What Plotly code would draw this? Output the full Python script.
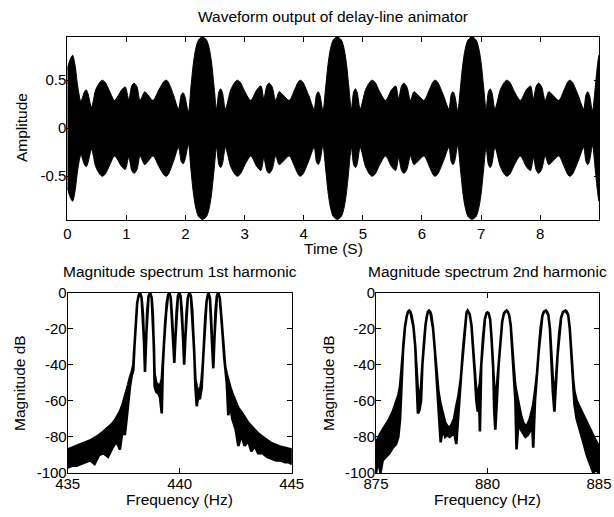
import plotly.graph_objects as go

# ---------------- data ----------------
# Waveform envelope (upper edge of the dense 440 Hz waveform)
env_t = [0.00, 0.05, 0.09, 0.13, 0.18, 0.23, 0.29, 0.32, 0.35, 0.41, 0.48, 0.55, 0.59, 0.64,
         0.72, 0.80, 0.92, 0.98, 1.04, 1.09, 1.13, 1.18, 1.23, 1.31, 1.36, 1.45, 1.55, 1.64,
         1.68, 1.71, 1.80, 1.88, 1.93, 1.96, 1.99, 2.05, 2.09, 2.13, 2.17, 2.22, 2.285,
         2.355, 2.405, 2.445, 2.485, 2.525, 2.565, 2.595, 2.625, 2.675, 2.765, 2.835, 2.875,
         2.925, 3.005, 3.105, 3.205, 3.275, 3.325, 3.375, 3.415, 3.465, 3.525, 3.585, 3.645,
         3.755, 3.845, 3.915, 3.945, 3.985, 4.085, 4.175, 4.215, 4.245, 4.275, 4.325, 4.37,
         4.41, 4.45, 4.50, 4.565,
         4.635, 4.685, 4.725, 4.765, 4.805, 4.845, 4.875, 4.905, 4.955, 5.045, 5.115, 5.155,
         5.205, 5.285, 5.385, 5.485, 5.555, 5.605, 5.655, 5.695, 5.745, 5.805, 5.865, 5.925,
         6.035, 6.125, 6.195, 6.225, 6.265, 6.365, 6.455, 6.495, 6.525, 6.555, 6.605, 6.65,
         6.69, 6.73, 6.78, 6.845,
         6.915, 6.965, 7.005, 7.045, 7.085, 7.125, 7.155, 7.185, 7.235, 7.325, 7.395, 7.435,
         7.485, 7.565, 7.665, 7.765, 7.835, 7.885, 7.935, 7.975, 8.025, 8.085, 8.145, 8.205,
         8.315, 8.405, 8.475, 8.505, 8.545, 8.645, 8.735, 8.775, 8.805, 8.835, 8.885, 8.93,
         8.97, 8.995]
env_amp = [0.62, 0.72, 0.76, 0.66, 0.42, 0.28, 0.38, 0.40, 0.36, 0.22, 0.40, 0.48, 0.50, 0.48,
           0.38, 0.29, 0.40, 0.43, 0.30, 0.44, 0.47, 0.43, 0.29, 0.38, 0.35, 0.29, 0.40, 0.49,
           0.50, 0.48, 0.34, 0.20, 0.35, 0.37, 0.33, 0.17, 0.42, 0.66, 0.82, 0.92, 0.95,
           0.92, 0.82, 0.66, 0.42, 0.20, 0.38, 0.41, 0.37, 0.20, 0.40, 0.48, 0.50,
           0.48, 0.38, 0.29, 0.40, 0.44, 0.31, 0.44, 0.47, 0.43, 0.29, 0.38, 0.35,
           0.29, 0.40, 0.49, 0.50, 0.48, 0.34, 0.20, 0.35, 0.38, 0.34, 0.18, 0.42,
           0.66, 0.82, 0.92, 0.95,
           0.92, 0.82, 0.66, 0.42, 0.20, 0.38, 0.41, 0.37, 0.20, 0.40, 0.48, 0.50,
           0.48, 0.38, 0.29, 0.40, 0.44, 0.31, 0.44, 0.47, 0.43, 0.29, 0.38, 0.35,
           0.29, 0.40, 0.49, 0.50, 0.48, 0.34, 0.20, 0.35, 0.38, 0.34, 0.18, 0.42,
           0.66, 0.82, 0.92, 0.95,
           0.92, 0.82, 0.66, 0.42, 0.20, 0.38, 0.41, 0.37, 0.20, 0.40, 0.48, 0.50,
           0.48, 0.38, 0.29, 0.40, 0.44, 0.31, 0.44, 0.47, 0.43, 0.29, 0.38, 0.35,
           0.29, 0.40, 0.49, 0.50, 0.48, 0.34, 0.20, 0.35, 0.38, 0.34, 0.18, 0.42,
           0.66, 0.76]

# 1st harmonic spectrum: frequency, upper edge, lower edge (None = same as upper)
f1 = [435.0, 435.2, 435.4, 435.6, 435.8, 436.0, 436.2, 436.4, 436.6, 436.8, 437.0, 437.1,
      437.2, 437.33, 437.45, 437.55, 437.63, 437.7, 437.78, 437.86, 437.93, 437.98, 438.03,
      438.1, 438.17, 438.23, 438.3, 438.36, 438.41, 438.45, 438.5, 438.55, 438.61, 438.68,
      438.75, 438.8, 438.85, 438.88, 438.95, 439.05, 439.12, 439.2, 439.25, 439.3, 439.36,
      439.42, 439.48, 439.54, 439.6, 439.66, 439.71, 439.76, 439.81, 439.86, 439.92, 439.98,
      440.04, 440.1, 440.15, 440.2, 440.25, 440.3, 440.36, 440.43, 440.5, 440.56, 440.6,
      440.65, 440.7, 440.76, 440.82, 440.9, 440.98, 441.03, 441.08, 441.14, 441.2, 441.28,
      441.35, 441.4, 441.45, 441.5, 441.55, 441.6, 441.66, 441.72, 441.79, 441.85, 441.92,
      441.98, 442.03, 442.1, 442.17, 442.25, 442.35, 442.5, 442.62, 442.75, 442.9, 443.05,
      443.2, 443.35, 443.5, 443.7, 443.9, 444.1, 444.3, 444.5, 444.7, 444.85, 445.0]
u1 = [-87, -86, -85, -84, -83, -82, -80.5, -79, -77, -75, -72.5, -71,
      -69, -66, -62, -58, -55, -51, -47, -44, -40, -30, -17,
      -6, -1.5, 0, -3, -12, -28, -44, -25, -10, -2, 0,
      -3, -12, -30, -45, -50, -51, -52, -48, -40, -28, -15,
      -6, -1.5, 0, -3, -14, -28, -39, -25, -11, -2, 0,
      -2, -11, -25, -40, -26, -12, -3, 0, -2, -10, -22,
      -33, -48, -52, -54, -55, -48, -40, -28, -14, -5, 0,
      -3, -14, -30, -42, -25, -10, -2, 0, -3, -12, -24,
      -35, -41, -45, -49, -52, -56, -61, -64, -66, -69, -72,
      -74, -76, -78, -80, -82, -83.5, -84.5, -85.5, -86, -86.5, -87]
l1 = [-97, -96, -96, -95, -94, -93, -95, -90, -89, -91, -86, -84,
      -83, -87, -76, -79, -70, -60, -52, -46, -43, None, None,
      None, None, None, None, None, None, None, None, None, None, None,
      None, None, None, -52, -55, -56, -58, -67, None, None, None,
      None, None, None, None, None, None, None, None, None, None, None,
      None, None, None, None, None, None, None, None, None, None, None,
      None, -52, -63, -58, -59, -53, None, None, None, None, None,
      None, None, None, None, None, None, None, None, None, None, None,
      None, -43, -50, -68, -62, -70, -76, -85, -79, -85, -82,
      -88, -85, -89, -89, -91, -92, -93, -93, -94, -94, -95]

# 2nd harmonic spectrum
f2 = [875.0, 875.1, 875.2, 875.3, 875.45, 875.6, 875.75, 875.9, 876.0, 876.08, 876.15,
      876.22, 876.3, 876.38, 876.44, 876.49, 876.54, 876.6, 876.68, 876.76, 876.82, 876.88,
      876.95, 877.02, 877.08, 877.15, 877.22, 877.29, 877.33, 877.38, 877.43, 877.48, 877.56,
      877.64, 877.72, 877.8, 877.9, 878.0, 878.1, 878.2, 878.3, 878.4, 878.5, 878.6, 878.7,
      878.8, 878.88, 878.95, 879.02, 879.06, 879.11, 879.16, 879.2, 879.28, 879.36, 879.43,
      879.5, 879.56, 879.62, 879.66, 879.72, 879.8, 879.88, 879.95, 880.0, 880.05, 880.12,
      880.18, 880.25, 880.3, 880.35, 880.42, 880.5, 880.58, 880.66, 880.74, 880.81, 880.86,
      880.91, 880.97, 881.04, 881.1, 881.18, 881.25, 881.3, 881.4, 881.5, 881.6, 881.7,
      881.8, 881.9, 882.0, 882.05, 882.13, 882.22, 882.3, 882.38, 882.46, 882.52, 882.57,
      882.62, 882.67, 882.73, 882.8, 882.86, 882.93, 883.0, 883.06, 883.14, 883.22, 883.3,
      883.38, 883.45, 883.5, 883.55, 883.62, 883.69, 883.76, 883.84, 883.9, 884.0, 884.15,
      884.3, 884.45, 884.6, 884.75, 884.85, 885.0]
u2 = [-83, -80, -78, -76, -73, -70, -66, -61, -57, -52, -42,
      -30, -19, -13, -10.6, -10, -10.6, -13, -19, -30, -42, -55,
      -58, -52, -40, -28, -18, -12.5, -10.6, -10, -10.6, -12.5, -20,
      -32, -45, -55, -62, -68, -72, -74, -75, -73, -70, -63, -57,
      -48, -35, -25, -15, -11, -10, -10.8, -12, -18, -30, -45,
      -55, -57, -52, -50, -40, -25, -15, -11.5, -11, -11.5, -15,
      -25, -40, -52, -55, -52, -40, -26, -16, -11.5, -10.4, -10,
      -10.6, -12.5, -18, -30, -42, -52, -55, -63, -68, -72, -74,
      -73, -70, -65, -62, -55, -45, -32, -20, -13, -10.8, -10.2,
      -10, -10.6, -12.5, -20, -32, -48, -55, -50, -35, -22, -14,
      -11, -10.2, -10, -10.6, -12.5, -20, -35, -48, -55, -60, -64,
      -68, -72, -76, -80, -82, -85]
l2 = [-100, -92, -100, -93, -91, -89, -86, -84, -80, -70, -55,
      None, None, None, None, None, None, None, None, None, None, -67,
      -65, -60, None, None, None, None, None, None, None, None, None,
      None, None, -62, -83, -75, -80, -79, -80, -79, -77, -84, -66,
      -50, None, None, None, None, None, None, None, None, None, None,
      -60, -66, -58, -77, None, None, None, None, None, None, None,
      None, None, -65, -76, -60, None, None, None, None, None, None,
      None, None, None, None, None, -60, -87, -70, -76, -78, -80,
      -79, -77, -72, -86, -60, None, None, None, None, None, None,
      None, None, None, None, None, -55, -66, -55, None, None, None,
      None, None, None, None, None, None, None, None, -62, -70, -77,
      -83, -90, -95, -100, -98, -100]

time_ticks = [0, 1, 2, 3, 4, 5, 6, 7, 8]
amp_ticks = [-0.5, 0, 0.5]
amp_tick_text = ["-0.5", "0", "0.5"]
db_ticks = [-100, -80, -60, -40, -20, 0]
db_tick_text = ["-100", "-80", "-60", "-40", "-20", "0"]
f1_ticks = [435, 440, 445]
f2_ticks = [875, 880, 885]

# ---------------- figure ----------------
W, H = 614, 517
FONT = "Liberation Sans, Arial, Helvetica, sans-serif"
FS = 15.5
TFS = 15


def px(x):
    return x / W


def py(y):
    return 1 - y / H


def band(f, up, lo):
    lo_full = [u if v is None else v for u, v in zip(up, lo)]
    return list(f) + list(f[::-1]), list(up) + lo_full[::-1]


fig = go.Figure()

wx = list(env_t) + list(env_t[::-1])
wy = list(env_amp) + [-a for a in env_amp[::-1]]
fig.add_trace(go.Scatter(x=wx, y=wy, mode="lines", fill="toself", fillcolor="black",
                         line=dict(color="black", width=1, shape="spline", smoothing=0.8),
                         xaxis="x", yaxis="y", hoverinfo="skip", showlegend=False))

bx, by = band(f1, u1, l1)
fig.add_trace(go.Scatter(x=bx, y=by, mode="lines", fill="toself", fillcolor="black",
                         line=dict(color="black", width=2.6),
                         xaxis="x2", yaxis="y2", hoverinfo="skip", showlegend=False))

bx2, by2 = band(f2, u2, l2)
fig.add_trace(go.Scatter(x=bx2, y=by2, mode="lines", fill="toself", fillcolor="black",
                         line=dict(color="black", width=2.6),
                         xaxis="x3", yaxis="y3", hoverinfo="skip", showlegend=False))

axis_style = dict(showline=True, linecolor="black", linewidth=1, mirror="ticks",
                  ticks="inside", ticklen=5, tickcolor="black", tickwidth=1,
                  showgrid=False, zeroline=False, automargin=False,
                  tickfont=dict(family=FONT, size=TFS, color="black"))

fig.update_layout(
    template="none",
    width=W, height=H, margin=dict(l=0, r=0, t=0, b=0, pad=0),
    paper_bgcolor="white", plot_bgcolor="white", showlegend=False,
    font=dict(family=FONT, size=FS, color="black"),
    xaxis=dict(domain=[px(67.3), px(599)], range=[0, 8.995], anchor="y",
               tickvals=time_ticks, **axis_style),
    yaxis=dict(domain=[py(220), py(37)], range=[-0.956, 0.95], anchor="x",
               tickvals=amp_ticks, ticktext=amp_tick_text, ticklabelstandoff=-3, **axis_style),
    xaxis2=dict(domain=[px(67.7), px(291.7)], range=[435, 445], anchor="y2",
                tickvals=f1_ticks, ticklabelstandoff=-3, **axis_style),
    yaxis2=dict(domain=[py(473), py(292.5)], range=[-100, 0], anchor="x2",
                tickvals=db_ticks, ticktext=db_tick_text, ticklabelstandoff=-3, **axis_style),
    xaxis3=dict(domain=[px(376), px(599)], range=[875, 885], anchor="y3",
                tickvals=f2_ticks, ticklabelstandoff=-3, **axis_style),
    yaxis3=dict(domain=[py(473), py(292.5)], range=[-100, 0], anchor="x3",
                tickvals=db_ticks, ticktext=db_tick_text, ticklabelstandoff=-3, **axis_style),
)

ann = [
    ("Waveform output of delay-line animator", 333, 17, 0),
    ("Time (S)", 333, 248, 0),
    ("Amplitude", 22, 128, -90),
    ("Magnitude spectrum 1st harmonic", 179.7, 271, 0),
    ("Magnitude spectrum 2nd harmonic", 487.5, 271, 0),
    ("Frequency (Hz)", 179.7, 499, 0),
    ("Frequency (Hz)", 487.5, 499, 0),
    ("Magnitude dB", 19, 383, -90),
    ("Magnitude dB", 328, 383, -90),
]
for text, x, y, ang in ann:
    fig.add_annotation(text=text, x=px(x), y=py(y), xref="paper", yref="paper",
                       xanchor="center", yanchor="middle", showarrow=False, textangle=ang,
                       font=dict(family=FONT, size=FS, color="black"))

fig.write_html("out.html", config={"displayModeBar": False},
               post_script="document.body.style.margin='0';document.body.style.padding='0';")
